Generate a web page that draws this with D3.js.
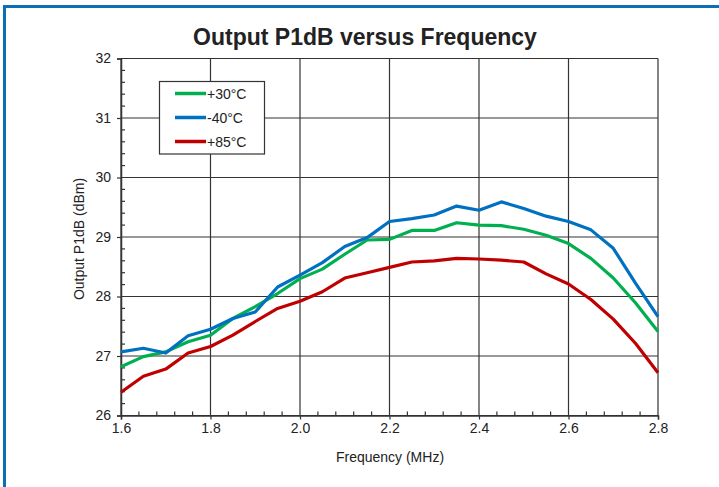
<!DOCTYPE html>
<html>
<head>
<meta charset="utf-8">
<script src="https://cdn.jsdelivr.net/npm/d3@7"></script>
<style>
    body { margin: 0; background: #fff; }
    text { font-family: "Liberation Sans", Arial, sans-serif; fill: #222; }
</style>
</head>
<body>
<div id="chart"></div>
<script>
const freqs = [1.6, 1.65, 1.7, 1.75, 1.8, 1.85, 1.9, 1.95, 2.0, 2.05, 2.1, 2.15, 2.2, 2.25,
    2.3, 2.35, 2.4, 2.45, 2.5, 2.55, 2.6, 2.65, 2.7, 2.75, 2.8];
const p30 = [26.82, 26.99, 27.07, 27.24, 27.35, 27.63, 27.83, 28.05, 28.30, 28.46, 28.71, 28.95, 28.96,
    29.11, 29.11, 29.24, 29.20, 29.19, 29.13, 29.03, 28.89, 28.64, 28.31, 27.89, 27.41];
const pm40 = [27.07, 27.13, 27.05, 27.34, 27.45, 27.63, 27.74, 28.16, 28.36, 28.57, 28.84, 28.99, 29.26,
    29.31, 29.37, 29.52, 29.45, 29.59, 29.48, 29.35, 29.26, 29.12, 28.81, 28.22, 27.66];
const p85 = [26.39, 26.66, 26.78, 27.05, 27.16, 27.35, 27.58, 27.80, 27.92, 28.08, 28.31, 28.40, 28.49,
    28.58, 28.60, 28.64, 28.63, 28.61, 28.58, 28.38, 28.21, 27.95, 27.62, 27.21, 26.72];
const seriesNames = ["+30°C", "-40°C", "+85°C"];
const seriesColors = ["#00b050", "#0070c0", "#c00000"];
const xTicks = [1.6, 1.8, 2.0, 2.2, 2.4, 2.6, 2.8];
const yTicks = [26, 27, 28, 29, 30, 31, 32];

const width = 719, height = 487;
const plot = { left: 121, right: 658, top: 58.5, bottom: 415.5 };

const svg = d3.select("#chart").append("svg")
    .attr("width", width)
    .attr("height", height);

// blue frame (top + left)
svg.append("rect").attr("x", 3).attr("y", 5).attr("width", width - 3).attr("height", 3).attr("fill", "#0a6fb5");
svg.append("rect").attr("x", 3).attr("y", 5).attr("width", 3).attr("height", height - 5).attr("fill", "#0a6fb5");

const x = d3.scaleLinear().domain([1.6, 2.8]).range([plot.left, plot.right]);
const y = d3.scaleLinear().domain([26, 32]).range([plot.bottom, plot.top]);

// grid
svg.append("g").selectAll("line").data(xTicks).enter().append("line")
    .attr("x1", d => x(d)).attr("x2", d => x(d))
    .attr("y1", plot.top).attr("y2", plot.bottom)
    .attr("stroke", "#333").attr("stroke-width", 1.2);
svg.append("g").selectAll("line").data(yTicks).enter().append("line")
    .attr("x1", plot.left).attr("x2", plot.right)
    .attr("y1", d => y(d)).attr("y2", d => y(d))
    .attr("stroke", "#333").attr("stroke-width", 1.2);

// minor ticks, inside
const xMinor = d3.range(1.6, 2.8001, 0.04).filter(v => Math.abs(v * 5 - Math.round(v * 5)) > 1e-6);
const yMinor = d3.range(26, 32.001, 0.2).filter(v => Math.abs(v - Math.round(v)) > 1e-6);
svg.append("g").selectAll("line").data(xMinor).enter().append("line")
    .attr("x1", d => x(d)).attr("x2", d => x(d))
    .attr("y1", plot.bottom).attr("y2", plot.bottom - 4)
    .attr("stroke", "#333").attr("stroke-width", 1.2);
svg.append("g").selectAll("line").data(yMinor).enter().append("line")
    .attr("x1", plot.left).attr("x2", plot.left + 4)
    .attr("y1", d => y(d)).attr("y2", d => y(d))
    .attr("stroke", "#333").attr("stroke-width", 1.2);

// axes
const xAxis = svg.append("g")
    .attr("transform", `translate(0,${plot.bottom})`)
    .call(d3.axisBottom(x).tickValues(xTicks).tickFormat(d3.format(".1f")).tickSize(4).tickPadding(4));
const yAxis = svg.append("g")
    .attr("transform", `translate(${plot.left},0)`)
    .call(d3.axisLeft(y).tickValues(yTicks).tickFormat(d3.format("d")).tickSize(4).tickPadding(6));
[xAxis, yAxis].forEach(g => {
    g.select(".domain").attr("stroke", "#333").attr("stroke-width", 1.5);
    g.selectAll(".tick line").attr("stroke", "#333").attr("stroke-width", 1.2);
    g.selectAll(".tick text").attr("font-size", 14).attr("fill", "#222")
        .attr("font-family", "Liberation Sans, Arial, sans-serif");
});

// lines
const line = d3.line().x(d => x(d[0])).y(d => y(d[1]));
[p30, pm40, p85].forEach((vals, i) => {
    svg.append("path")
        .datum(freqs.map((f, j) => [f, vals[j]]))
        .attr("d", line)
        .attr("fill", "none")
        .attr("stroke", seriesColors[i])
        .attr("stroke-width", 3.2)
        .attr("stroke-linejoin", "round");
});

// legend
const legend = svg.append("g");
legend.append("rect")
    .attr("x", 159.5).attr("y", 81.5).attr("width", 105).attr("height", 72.5)
    .attr("fill", "#fff").attr("stroke", "#333").attr("stroke-width", 1.2);
seriesNames.forEach((name, i) => {
    const ly = 93.5 + i * 24;
    legend.append("line")
        .attr("x1", 175).attr("x2", 206).attr("y1", ly).attr("y2", ly)
        .attr("stroke", seriesColors[i]).attr("stroke-width", 3.5);
    legend.append("text")
        .attr("x", 207).attr("y", ly + 5)
        .attr("font-size", 14)
        .text(name);
});

// titles
svg.append("text")
    .attr("x", 365).attr("y", 45)
    .attr("text-anchor", "middle")
    .attr("font-size", 23).attr("font-weight", "bold")
    .attr("fill", "#000")
    .text("Output P1dB versus Frequency");
svg.append("text")
    .attr("x", 390).attr("y", 462)
    .attr("text-anchor", "middle")
    .attr("font-size", 14)
    .text("Frequency (MHz)");
svg.append("text")
    .attr("transform", `translate(84,239) rotate(-90)`)
    .attr("text-anchor", "middle")
    .attr("font-size", 14)
    .text("Output P1dB (dBm)");
</script>
</body>
</html>
